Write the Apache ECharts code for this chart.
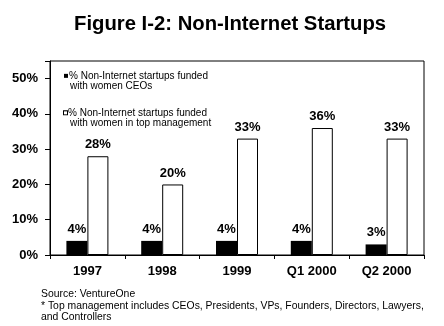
<!DOCTYPE html>
<html>
<head>
<meta charset="utf-8">
<script src="https://cdn.jsdelivr.net/npm/echarts@6/dist/echarts.min.js"></script>
<style>
  html, body { margin: 0; padding: 0; background: #fff; }
  #chart { width: 444px; height: 326px; }
</style>
</head>
<body>
<div id="chart"></div>
<script>
// Periods on the x axis
const periods = ['1997', '1998', '1999', 'Q1 2000', 'Q2 2000'];
// Share of non-Internet startups funded with women CEOs (%)
const womenCEOs = [4, 4, 4, 4, 3];
// Share of non-Internet startups funded with women in top management (%)
const womenTopMgmt = [28, 20, 33, 36, 33];
// Series names and their two-line legend text
const seriesNames = ['ceo', 'mgmt'];
const legendLines = {
  ceo: ['% Non-Internet startups funded', 'with women CEOs'],
  mgmt: ['% Non-Internet startups funded', 'with women in top management']
};
// Footnote lines under the chart
const footnotes = [
  'Source: VentureOne',
  '* Top management includes CEOs, Presidents, VPs, Founders, Directors, Lawyers,',
  'and Controllers'
];

const FONT = '"Liberation Sans", Arial, Helvetica, sans-serif';
const chart = echarts.init(document.getElementById('chart'), null, { renderer: 'canvas' });

const valueLabel = {
  show: true,
  position: 'top',
  distance: 5,
  formatter: p => p.value + '%',
  fontFamily: FONT,
  fontWeight: 'bold',
  fontSize: 13,
  color: '#000'
};

chart.setOption({
  backgroundColor: '#fff',
  animation: false,
  title: {
    text: 'Figure I-2: Non-Internet Startups',
    left: 74,
    top: 14,
    padding: 0,
    textStyle: { fontFamily: FONT, fontWeight: 'bold', fontSize: 20.3, color: '#000' }
  },
  grid: {
    left: 50, right: 20, top: 61, bottom: 71,
    show: true, borderColor: '#000', borderWidth: 1, backgroundColor: 'transparent'
  },
  // Legend keys are drawn inline in the rich text so they sit on the first line
  legend: {
    orient: 'vertical',
    left: 59,
    top: 70.5,
    padding: 0,
    itemGap: 15.6,
    itemWidth: 0,
    itemHeight: 0,
    icon: 'none',
    data: seriesNames,
    formatter: n => '{' + n + '|}{gap|}{t|' + legendLines[n][0] + '}\n{indent|}{t|' + legendLines[n][1] + '}',
    textStyle: {
      fontFamily: FONT, fontSize: 10, color: '#000', lineHeight: 10.7,
      rich: {
        ceo: { width: 4, height: 4, backgroundColor: '#000' },
        mgmt: { width: 3, height: 3, backgroundColor: '#fff', borderColor: '#000', borderWidth: 1 },
        gap: { width: 1 },
        indent: { width: 6 },
        t: { fontFamily: FONT, fontSize: 10, color: '#000', lineHeight: 10.7 }
      }
    }
  },
  xAxis: {
    type: 'category',
    data: periods,
    boundaryGap: true,
    axisLine: { show: true, lineStyle: { color: '#000', width: 1 } },
    axisTick: { show: true, length: 4, lineStyle: { color: '#000' } },
    axisLabel: { fontFamily: FONT, fontWeight: 'bold', fontSize: 13, color: '#000', margin: 10 }
  },
  yAxis: {
    type: 'value',
    min: 0,
    max: 55,
    interval: 10,
    axisLine: { show: true, lineStyle: { color: '#000', width: 1 } },
    axisTick: { show: true, length: 5, lineStyle: { color: '#000' } },
    splitLine: { show: false },
    axisLabel: {
      fontFamily: FONT, fontWeight: 'bold', fontSize: 13, color: '#000', margin: 12,
      formatter: v => (v % 10 === 0 ? v + '%' : '')
    }
  },
  series: [
    {
      name: seriesNames[0],
      type: 'bar',
      data: womenCEOs,
      barWidth: 21,
      barGap: '0%',
      itemStyle: { color: '#000' },
      label: valueLabel
    },
    {
      name: seriesNames[1],
      type: 'bar',
      data: womenTopMgmt,
      barWidth: 21,
      itemStyle: { color: '#fff', borderColor: '#000', borderWidth: 1 },
      label: valueLabel
    }
  ],
  graphic: footnotes.map((t, i) => ({
    type: 'text',
    left: 41,
    top: 289 + i * 11.7,
    style: { text: t, fontFamily: FONT, fontSize: 10.4, fill: '#000' }
  }))
});
</script>
</body>
</html>
